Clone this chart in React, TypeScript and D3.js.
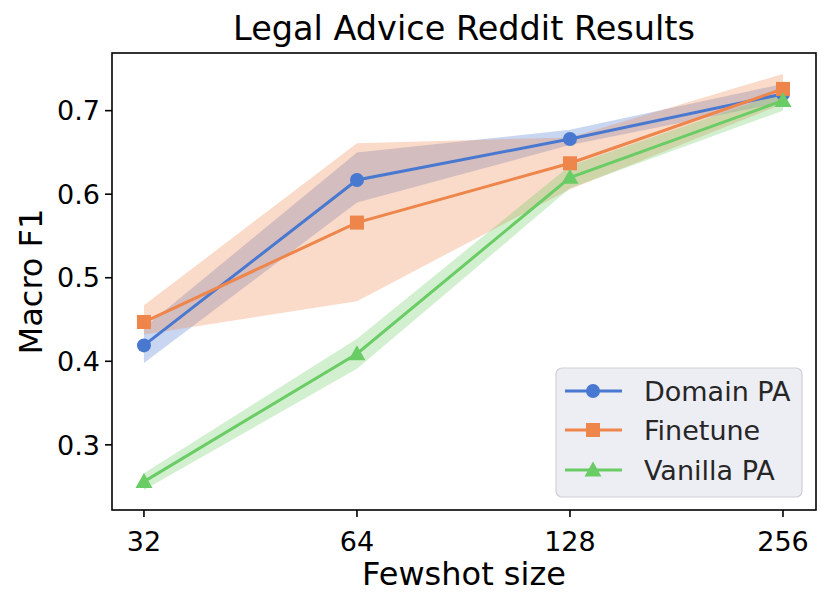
import React from "react";
import * as d3 from "d3";

const sizes = [32, 64, 128, 256];
const domainMean = [0.419, 0.617, 0.666, 0.72];
const domainLo = [0.398, 0.59, 0.659, 0.71];
const domainHi = [0.44, 0.65, 0.677, 0.732];
const finetuneMean = [0.447, 0.566, 0.637, 0.726];
const finetuneLo = [0.432, 0.472, 0.606, 0.708];
const finetuneHi = [0.467, 0.661, 0.668, 0.744];
const vanillaMean = [0.256, 0.409, 0.62, 0.712];
const vanillaLo = [0.246, 0.391, 0.607, 0.7];
const vanillaHi = [0.266, 0.427, 0.634, 0.722];
const yTicks = [0.3, 0.4, 0.5, 0.6, 0.7];
const seriesNames = ["Domain PA", "Finetune", "Vanilla PA"];
const colors = ["#4878d0", "#ee854a", "#6acc64"];
const markers = ["circle", "square", "triangle"];

const W = 831, H = 606;
const L = 112, R = 816, T = 53, B = 510;
const FONT = "DejaVu Sans, sans-serif";

function Marker({ kind, x, y, color }: { kind: string; x: number; y: number; color: string }) {
  if (kind === "circle") return <circle cx={x} cy={y} r={7} fill={color} />;
  if (kind === "square") return <rect x={x - 7} y={y - 7} width={14} height={14} fill={color} />;
  const s = 8.5;
  return <path d={`M${x},${y - s}L${x + s},${y + s * 0.75}L${x - s},${y + s * 0.75}Z`} fill={color} />;
}

export default function App() {
  const x = d3.scaleLog().base(2).domain([Math.pow(2, 4.85), Math.pow(2, 8.155)]).range([L, R]);
  const y = d3.scaleLinear().domain([0.222, 0.769]).range([B, T]);
  const series = [
    { mean: domainMean, lo: domainLo, hi: domainHi },
    { mean: finetuneMean, lo: finetuneLo, hi: finetuneHi },
    { mean: vanillaMean, lo: vanillaLo, hi: vanillaHi },
  ];
  const line = d3
    .line<number>()
    .x((_, i) => x(sizes[i]))
    .y((d) => y(d));

  const lx0 = 556, ly0 = 368, lw = 246, lh = 129;
  const rowY = [391, 430, 470];

  return (
    <svg width={W} height={H} style={{ position: "absolute", left: 0, top: 0 }} fontFamily={FONT}>
      <rect x={0} y={0} width={W} height={H} fill="#fff" />
      {series.map((s, k) => {
        const a = d3
          .area<number>()
          .x((_, i) => x(sizes[i]))
          .y0((_, i) => y(s.lo[i]))
          .y1((_, i) => y(s.hi[i]));
        return <path key={"b" + k} d={a(s.mean) || ""} fill={colors[k]} fillOpacity={0.3} stroke="none" />;
      })}
      {series.map((s, k) => (
        <g key={"l" + k}>
          <path d={line(s.mean) || ""} fill="none" stroke={colors[k]} strokeWidth={3} />
          {s.mean.map((v, i) => (
            <Marker key={i} kind={markers[k]} x={x(sizes[i])} y={y(v)} color={colors[k]} />
          ))}
        </g>
      ))}
      <rect x={L} y={T} width={R - L} height={B - T} fill="none" stroke="#000" strokeWidth={1.6} />
      {yTicks.map((t) => (
        <g key={t}>
          <line x1={L - 7} x2={L} y1={y(t)} y2={y(t)} stroke="#000" strokeWidth={1.6} />
          <text x={L - 12} y={y(t)} dy="0.36em" textAnchor="end" fontSize={27} fill="#000">
            {t.toFixed(1)}
          </text>
        </g>
      ))}
      {sizes.map((s) => (
        <g key={s}>
          <line x1={x(s)} x2={x(s)} y1={B} y2={B + 7} stroke="#000" strokeWidth={1.6} />
          <text x={x(s)} y={B + 41} textAnchor="middle" fontSize={27} fill="#000">
            {s}
          </text>
        </g>
      ))}
      <text x={(L + R) / 2} y={585} textAnchor="middle" fontSize={32} fill="#000">
        Fewshot size
      </text>
      <text
        transform={`translate(42,${(T + B) / 2}) rotate(-90)`}
        textAnchor="middle"
        fontSize={32}
        fill="#000"
      >
        Macro F1
      </text>
      <text x={(L + R) / 2} y={40} textAnchor="middle" fontSize={33.5} fill="#000">
        Legal Advice Reddit Results
      </text>
      <rect x={lx0} y={ly0} width={lw} height={lh} rx={6} fill="#eaeaf2" fillOpacity={0.85} stroke="#d0d0d8" strokeWidth={1.2} />
      {seriesNames.map((n, k) => (
        <g key={n}>
          <line x1={565} x2={622} y1={rowY[k]} y2={rowY[k]} stroke={colors[k]} strokeWidth={3} />
          <Marker kind={markers[k]} x={593} y={rowY[k]} color={colors[k]} />
          <text x={644} y={rowY[k]} dy="0.36em" fontSize={27} fill="#262626">
            {n}
          </text>
        </g>
      ))}
    </svg>
  );
}
